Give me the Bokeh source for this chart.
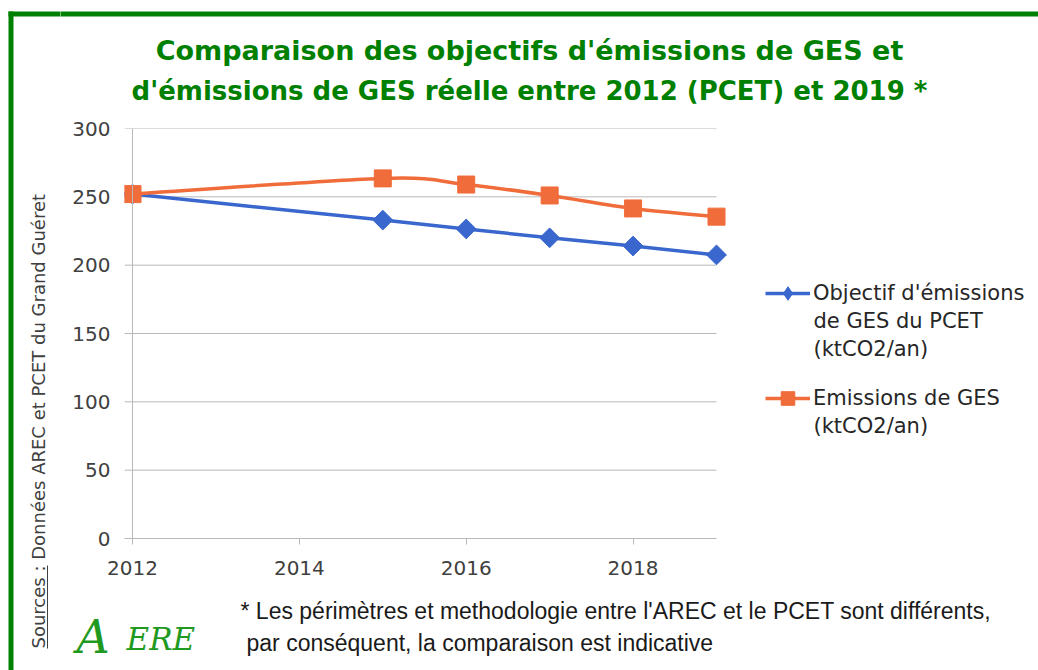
import math
from bokeh.plotting import figure
from bokeh.layouts import column, row
from bokeh.models import (Range1d, FixedTicker, Label, Legend, LegendItem, Span,
                          BoxAnnotation)
from bokeh.embed import file_html
from bokeh.resources import INLINE

# ---------------- data ----------------
years = [2012, 2015, 2016, 2017, 2018, 2019]
objectif = [252, 233, 226.5, 220, 214, 207.5]
emissions = [252, 263.5, 259, 251, 241.5, 235.5]
x_ticks = [2012, 2014, 2016, 2018]
y_ticks = [0, 50, 100, 150, 200, 250, 300]
title_lines = ["Comparaison des objectifs d'émissions de GES et",
               "d'émissions de GES réelle entre 2012 (PCET) et 2019 *"]
legend_objectif = ["Objectif d'émissions", "de GES du PCET", "(ktCO2/an)"]
legend_emissions = ["Emissions de GES", "(ktCO2/an)"]
source_text = "Sources : Données AREC et PCET du Grand Guéret"
note_lines = ["* Les périmètres et methodologie entre l'AREC et le PCET sont différents,",
              "par conséquent, la comparaison est indicative"]
logo_big = "A"
logo_small = "ERE"

# ---------------- style ----------------
BLUE = "#3a67cd"
ORANGE = "#f06c3a"
GREEN = "#008000"
LOGO_GREEN = "#1f9a1f"
GRID = "#b8b8b8"
AXIS_TXT = "#404040"
TXT = "#262626"
FONT = "DejaVu Sans"

# page geometry (pixels)
PAGE_W, PAGE_H = 1038, 670
TOP_H = 108
LEFT_W = 60
MAIN_W = 680
LEG_W = PAGE_W - LEFT_W - MAIN_W
BOT_H = 80
MID_H = PAGE_H - TOP_H - BOT_H
FL, FR, FT, FB = 124, 728, 128, 538   # plot frame in page pixels
X0_PX, X1_PX = 132, 716               # first / last year in page pixels
ppy = (X1_PX - X0_PX) / (years[-1] - years[0])
x_start = years[0] - (X0_PX - FL) / ppy
x_end = years[-1] + (FR - X1_PX) / ppy


def no_align(f):
    if "frame_align" in f.properties():
        f.frame_align = False
    return f


def canvas_fig(x0, y0, w, h, top=0, bottom=0):
    # x / y ranges expressed in page pixels (y downwards)
    f = figure(width=w, height=h, x_range=Range1d(x0, x0 + w),
               y_range=Range1d(y0 + h - bottom, y0 + top),
               output_backend="svg", toolbar_location=None, x_axis_type=None,
               y_axis_type=None, min_border=0)
    f.min_border_top = top
    f.min_border_bottom = bottom
    f.outline_line_color = None
    f.background_fill_color = "white"
    f.border_fill_color = "white"
    return no_align(f)


def lab(f, text, x, y, **kw):
    opts = dict(x=x, y=y, text=text, text_font=FONT, text_baseline="middle")
    opts.update(kw)
    f.add_layout(Label(**opts))


def band(f, l, r, t, b, color=GREEN):
    f.add_layout(BoxAnnotation(left=l, right=r, top=t, bottom=b, fill_color=color,
                               fill_alpha=1, line_color=None))


# ---------------- left strip (full height): frame + source ----------------
left = canvas_fig(0, 0, LEFT_W, PAGE_H)
band(left, 8, LEFT_W + 6, 11, 16)
band(left, 8, 13, 11, PAGE_H + 6)
lab(left, source_text, 38, 648, angle=90, angle_units="deg", text_align="left",
    text_font_size="18px", text_color=AXIS_TXT)
band(left, 46.5, 47.5, 565, 648, color=AXIS_TXT)

# ---------------- top strip: title ----------------
top = canvas_fig(LEFT_W, 0, PAGE_W - LEFT_W, TOP_H)
band(top, LEFT_W - 6, PAGE_W + 6, 11, 16)
lab(top, title_lines[0], 529, 50, text_align="center", text_font_size="27px",
    text_font_style="bold", text_color=GREEN)
lab(top, title_lines[1], 529, 90, text_align="center", text_font_size="26px",
    text_font_style="bold", text_color=GREEN)

# ---------------- main chart ----------------
p = figure(width=MAIN_W, height=MID_H, x_range=Range1d(x_start, x_end), y_range=Range1d(0, 300),
           output_backend="svg", toolbar_location=None,
           min_border_left=FL - LEFT_W, min_border_right=LEFT_W + MAIN_W - FR,
           min_border_top=FT - TOP_H, min_border_bottom=TOP_H + MID_H - FB)
no_align(p)
p.outline_line_color = None
p.background_fill_color = "white"
p.border_fill_color = "white"
p.xgrid.visible = False
p.ygrid.visible = False

xa = p.xaxis[0]
xa.ticker = FixedTicker(ticks=x_ticks)
xa.bounds = (x_start, years[-1])
xa.axis_line_color = GRID
xa.major_tick_line_color = GRID
xa.major_tick_out = 6
xa.major_tick_in = 0
xa.minor_tick_line_color = None
xa.major_label_standoff = 16
xa.major_label_text_font = FONT
xa.major_label_text_font_size = "20px"
xa.major_label_text_color = AXIS_TXT

ya = p.yaxis[0]
ya.ticker = FixedTicker(ticks=y_ticks)
ya.axis_line_color = None
ya.major_tick_line_color = None
ya.minor_tick_line_color = None
ya.major_tick_out = 0
ya.major_tick_in = 0
ya.major_label_standoff = 14
ya.major_label_text_font = FONT
ya.major_label_text_font_size = "20px"
ya.major_label_text_color = AXIS_TXT

p.segment(x0=[x_start] * len(y_ticks), y0=y_ticks, x1=[years[-1]] * len(y_ticks), y1=y_ticks,
          line_color=GRID, line_width=1)
p.add_layout(Span(location=years[0], dimension="height", line_color=GRID, line_width=1))

p.line(years, objectif, line_color=BLUE, line_width=3.5)
p.scatter(years, objectif, marker="square", angle=math.pi / 4, size=14,
          fill_color=BLUE, line_color=BLUE)

n = len(years)
bx0, by0, bx1, by1, cx0, cy0, cx1, cy1 = [], [], [], [], [], [], [], []
for i in range(n - 1):
    xp, yp = (years[i - 1], emissions[i - 1]) if i > 0 else (years[i], emissions[i])
    xn, yn = (years[i + 2], emissions[i + 2]) if i + 2 < n else (years[i + 1], emissions[i + 1])
    bx0.append(years[i]); by0.append(emissions[i])
    bx1.append(years[i + 1]); by1.append(emissions[i + 1])
    cx0.append(years[i] + (years[i + 1] - xp) / 6); cy0.append(emissions[i] + (emissions[i + 1] - yp) / 6)
    cx1.append(years[i + 1] - (xn - years[i]) / 6); cy1.append(emissions[i + 1] - (yn - emissions[i]) / 6)
p.bezier(x0=bx0, y0=by0, x1=bx1, y1=by1, cx0=cx0, cy0=cy0, cx1=cx1, cy1=cy1,
         line_color=ORANGE, line_width=3.5, line_cap="round")
p.scatter(years, emissions, marker="square", size=17, fill_color=ORANGE, line_color=ORANGE)

# ---------------- legend strip ----------------
LG_X0 = LEFT_W + MAIN_W
lg = canvas_fig(LG_X0, TOP_H, LEG_W, MID_H, top=FT - TOP_H, bottom=TOP_H + MID_H - FB)
# legend proxies: same series, lying outside this strip's visible range
lb_line = lg.line(years, objectif, line_color=BLUE, line_width=3.5)
lb_mark = lg.scatter(years, objectif, marker="diamond", fill_color=BLUE, line_color=BLUE)
lo_line = lg.line(years, emissions, line_color=ORANGE, line_width=3.5)
lo_mark = lg.scatter(years, emissions, marker="square", fill_color=ORANGE, line_color=ORANGE)
LEG_X, ITEM_H, SPACING = 765, 34, 71
ITEM1_Y, PITCH = 293, 27.5
leg_top = ITEM1_Y - ITEM_H / 2
leg_h = 2 * ITEM_H + SPACING
legend = Legend(items=[LegendItem(label=legend_objectif[0], renderers=[lb_line, lb_mark]),
                       LegendItem(label=legend_emissions[0], renderers=[lo_line, lo_mark])],
                location=(LEG_X - LG_X0, FB - (leg_top + leg_h)),
                glyph_width=45, glyph_height=ITEM_H, label_height=ITEM_H, label_standoff=3,
                spacing=SPACING, padding=0, margin=0, border_line_alpha=0,
                background_fill_alpha=0, label_text_font=FONT, label_text_font_size="21px",
                label_text_color=TXT)
lg.add_layout(legend)
lx = LEG_X + 48
for i, t in enumerate(legend_objectif[1:]):
    lab(lg, t, lx, ITEM1_Y + (i + 1) * PITCH, text_font_size="21px", text_color=TXT)
item2_y = ITEM1_Y + ITEM_H + SPACING
for i, t in enumerate(legend_emissions[1:]):
    lab(lg, t, lx, item2_y + (i + 1) * PITCH, text_font_size="21px", text_color=TXT)

# ---------------- bottom strip: logo + note ----------------
BY0 = TOP_H + MID_H
bot = canvas_fig(LEFT_W, BY0, PAGE_W - LEFT_W, BOT_H)
lab(bot, note_lines[0], 240, 610, text_font="Liberation Sans",
    text_font_size="23px", text_color="#1a1a1a")
lab(bot, note_lines[1], 246, 642, text_font="Liberation Sans",
    text_font_size="23px", text_color="#1a1a1a")
lab(bot, logo_big, 76, 636, text_font="DejaVu Serif",
    text_font_style="italic", text_font_size="46px", text_color=LOGO_GREEN)
lab(bot, logo_small, 126, 638, text_font="DejaVu Serif", text_font_style="italic",
    text_font_size="31px", text_color=LOGO_GREEN)

layout = row(left, column(top, row(p, lg), bot))
open("out.html", "w").write(file_html(layout, INLINE))
